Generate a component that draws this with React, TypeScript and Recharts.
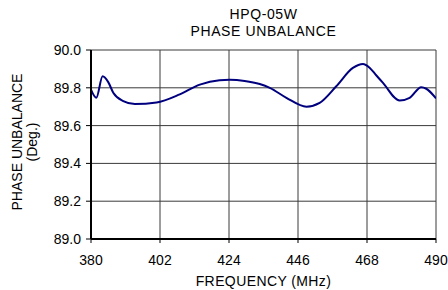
import { LineChart, Line, XAxis, YAxis, CartesianGrid } from 'recharts'

// frequency (MHz) and measured phase unbalance (deg)
const freq = [380, 381.7, 383.7, 385.5, 387.1, 390.3, 394, 400.9, 408.3, 414.7, 421, 424.2, 429, 433.8, 437, 442.3, 448.7, 452.9, 458.2, 463.5, 466.7, 468.9, 471, 473.1, 478.4, 481.6, 485.3, 486.9, 490]
const phase = [89.79, 89.747, 89.861, 89.83, 89.774, 89.73, 89.714, 89.722, 89.765, 89.817, 89.84, 89.842, 89.836, 89.82, 89.80, 89.747, 89.70, 89.72, 89.808, 89.905, 89.926, 89.905, 89.865, 89.826, 89.733, 89.747, 89.803, 89.795, 89.744]

const xTicks = [380, 402, 424, 446, 468, 490]
const yTicks = [89.0, 89.2, 89.4, 89.6, 89.8, 90.0]

const data = freq.map((f, i) => ({ f, v: phase[i] }))

const font = '"Liberation Sans", Arial, sans-serif'

export default function App() {
    return (
        <div style={{ position: 'absolute', left: 0, top: 0, width: 448, height: 290, fontFamily: font, color: '#000' }}>
            <div style={{ position: 'absolute', left: 91, width: 345, top: 6, textAlign: 'center', fontSize: 14, lineHeight: '17px', letterSpacing: 0.6 }}>
                HPQ-05W
                <br />
                PHASE UNBALANCE
            </div>
            <div
                style={{
                    position: 'absolute',
                    left: 25 - 100,
                    top: 144 - 17,
                    width: 200,
                    textAlign: 'center',
                    fontSize: 14,
                    lineHeight: '15px',
                    transform: 'rotate(-90deg)',
                }}
            >
                PHASE UNBALANCE
                <br />
                (Deg.)
            </div>
            <div style={{ position: 'absolute', left: 91, width: 345, top: 273, textAlign: 'center', fontSize: 14, lineHeight: '16px', letterSpacing: 0.4 }}>
                FREQUENCY (MHz)
            </div>
            <LineChart width={448} height={290} data={data} margin={{ top: 50, right: 12, left: 0, bottom: 10 }}>
                <CartesianGrid stroke="#3a3a3a" strokeWidth={1} />
                <XAxis
                    dataKey="f"
                    type="number"
                    domain={[380, 490]}
                    ticks={xTicks}
                    height={41}
                    axisLine={{ stroke: '#000', strokeWidth: 2 }}
                    tickLine={{ stroke: '#000' }}
                    tickSize={4}
                    tickMargin={12}
                    tick={{ fill: '#000', fontSize: 14, fontFamily: font }}
                    allowDataOverflow
                />
                <YAxis
                    type="number"
                    domain={[89, 90]}
                    ticks={yTicks}
                    width={91}
                    axisLine={{ stroke: '#000', strokeWidth: 2 }}
                    tickLine={{ stroke: '#000' }}
                    tickSize={5}
                    tickMargin={5}
                    tickFormatter={(v: number) => v.toFixed(1)}
                    tick={{ fill: '#000', fontSize: 14, fontFamily: font }}
                    allowDataOverflow
                />
                <Line
                    type="monotone"
                    dataKey="v"
                    stroke="#00007f"
                    strokeWidth={2}
                    dot={false}
                    isAnimationActive={false}
                />
            </LineChart>
        </div>
    )
}
